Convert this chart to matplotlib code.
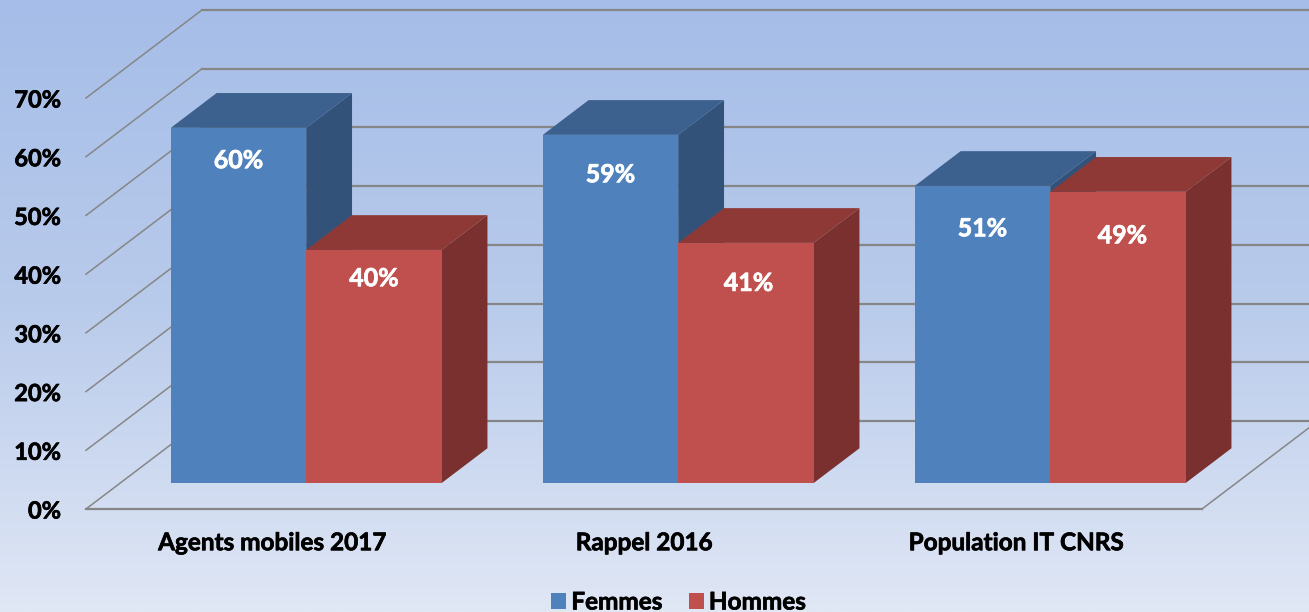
import numpy as np
import matplotlib
matplotlib.use("Agg")
import matplotlib.pyplot as plt
from matplotlib.colors import LinearSegmentedColormap
from matplotlib.patches import Patch
import matplotlib.patheffects as pe

categories = ["Agents mobiles 2017", "Rappel 2016", "Population IT CNRS"]
femmes = [60.5, 59.3, 50.6]
hommes = [39.7, 40.9, 49.6]
femmes_labels = ["60%", "59%", "51%"]
hommes_labels = ["40%", "41%", "49%"]
y_ticks = [0, 10, 20, 30, 40, 50, 60, 70]

# fake 3D: how far the back plane is shifted, in data units
depth_x = 116 / 372
depth_y = 88 / 5.87
bar_front = 0.295
bar_back = 0.69
bar_width = 0.364
bar_start = 0.136

plt.rcParams["font.family"] = "Lato"
plt.rcParams["font.weight"] = "bold"

# Lato bold is a little light next to the original, thicken it a bit
thick = [pe.withStroke(linewidth=0.5, foreground="black")]
thick_white = [pe.withStroke(linewidth=0.5, foreground="white")]


def project(x, y, d):
    return x + d * depth_x, y + d * depth_y


def draw_bar(ax, x, value, cols):
    x0, x1 = x, x + bar_width
    front = [project(x0, 0, bar_front), project(x1, 0, bar_front),
             project(x1, value, bar_front), project(x0, value, bar_front)]
    side = [project(x1, 0, bar_front), project(x1, 0, bar_back),
            project(x1, value, bar_back), project(x1, value, bar_front)]
    top = [project(x0, value, bar_front), project(x1, value, bar_front),
           project(x1, value, bar_back), project(x0, value, bar_back)]
    for face, col in ((side, cols[2]), (top, cols[1]), (front, cols[0])):
        xs, ys = zip(*face)
        ax.fill(xs, ys, color=col, lw=0, clip_on=False, zorder=3)


fig = plt.figure(figsize=(13.09, 6.12), dpi=100)

# background gradient
bg = fig.add_axes([0, 0, 1, 1], zorder=0)
cmap = LinearSegmentedColormap.from_list("bg", ["#A5BDE8", "#B9CBEB", "#E0E7F5"])
bg.imshow(np.linspace(0, 1, 256).reshape(-1, 1), aspect="auto", cmap=cmap)
bg.axis("off")

ax = fig.add_axes([86 / 1309, (612 - 509) / 612, 1116 / 1309, 411 / 612], zorder=1)
ax.patch.set_visible(False)
ax.set_xlim(0, 3)
ax.set_ylim(0, 70)
for s in ax.spines.values():
    s.set_visible(False)

# walls and floor
grid = "#868686"
for v in y_ticks:
    bx, by = project(0, v, 1)
    ax.plot([0, bx], [v, by], color=grid, lw=1.1, clip_on=False, zorder=1)
    ax.plot([bx, project(3, v, 1)[0]], [by, by], color=grid, lw=1.6, clip_on=False, zorder=1)
ax.plot([0, 3], [0, 0], color=grid, lw=1.6, clip_on=False, zorder=1)
ax.plot([3, project(3, 0, 1)[0]], [0, project(3, 0, 1)[1]], color=grid, lw=1.1,
        clip_on=False, zorder=1)

blues = ("#4F81BD", "#3D618F", "#32527A")
reds = ("#C0504D", "#8F3937", "#7A302F")
# label offsets below the top of each bar, in percent points
f_drop = [5.6, 6.8, 7.3]
h_drop = [4.9, 6.9, 7.5]
h_shift = [0, 0.007, 0.012]

for i in range(len(categories)):
    x = i + bar_start
    draw_bar(ax, x, femmes[i], blues)
    draw_bar(ax, x + bar_width, hommes[i], reds)
    fx, fy = project(x + bar_width / 2, femmes[i] - f_drop[i], bar_front)
    ax.text(fx, fy, femmes_labels[i], color="white", ha="center", va="center",
            fontsize=18, zorder=4, path_effects=thick_white)
    hx, hy = project(x + 1.5 * bar_width + h_shift[i], hommes[i] - h_drop[i], bar_front)
    ax.text(hx, hy, hommes_labels[i], color="white", ha="center", va="center",
            fontsize=18, zorder=4, path_effects=thick_white)

ax.set_xticks([0.5, 1.5, 2.5], categories)
ax.set_yticks(y_ticks, [f"{v}%" for v in y_ticks])
ax.tick_params(axis="x", length=0, pad=16, labelsize=17.5)
ax.tick_params(axis="y", length=0, pad=18, labelsize=17)
for lab in ax.get_xticklabels() + ax.get_yticklabels():
    lab.set_path_effects(thick)

handles = [Patch(color=blues[0], lw=0, label="Femmes"), Patch(color=reds[0], lw=0, label="Hommes")]
leg = fig.legend(handles=handles, loc="center", bbox_to_anchor=(678.5 / 1309, 10 / 612), ncol=2,
                 frameon=False, fontsize=17.5, handlelength=0.62, handleheight=0.62,
                 handletextpad=0.2, columnspacing=1.1, borderpad=0, borderaxespad=0)
for t in leg.get_texts():
    t.set_path_effects(thick)

fig.savefig("out.png", dpi=100)
